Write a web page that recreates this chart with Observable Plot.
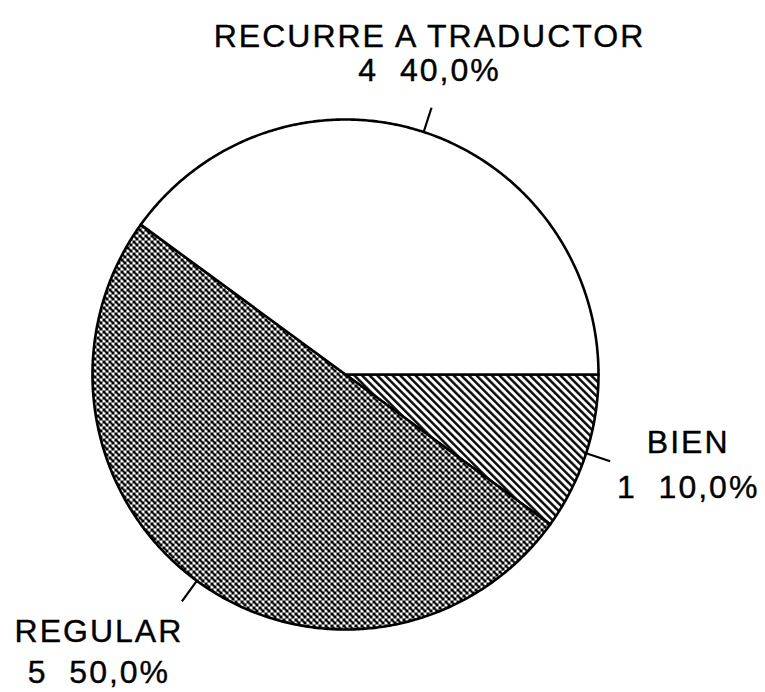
<!DOCTYPE html>
<html><head><meta charset="utf-8">
<script src="https://cdn.jsdelivr.net/npm/d3@7"></script>
<script src="https://cdn.jsdelivr.net/npm/@observablehq/plot@0.6"></script>
<style>html,body{margin:0;padding:0;background:#fff;} svg{display:block}</style>
</head><body>
<svg width="0" height="0" style="position:absolute">
<defs>
<pattern id="hatch" patternUnits="userSpaceOnUse" width="5.4" height="10" patternTransform="rotate(-45)">
<rect width="5.4" height="10" fill="#fff"/>
<line x1="1.3" y1="-1" x2="1.3" y2="11" stroke="#000" stroke-width="2.4"/>
</pattern>
<pattern id="stipple" patternUnits="userSpaceOnUse" width="6" height="6">
<rect width="6" height="6" fill="#000" shape-rendering="crispEdges"/>
<rect x="0" y="3" width="3" height="3" fill="#fff" shape-rendering="crispEdges"/>
<rect x="3" y="0" width="3" height="3" fill="#fff" shape-rendering="crispEdges"/>
<rect x="2" y="2" width="2" height="2" fill="#000" shape-rendering="crispEdges"/>
</pattern>
</defs></svg>
<div id="chart"></div>
<script>
const categories = ["BIEN", "REGULAR", "RECURRE A TRADUCTOR"];
const counts = [1, 5, 4];
const percentLabels = ["10,0%", "50,0%", "40,0%"];
const fills = ["url(#hatch)", "url(#stipple)", "#fff"];

const pie = d3.pie().sort(null).startAngle(Math.PI / 2).endAngle(Math.PI / 2 + 2 * Math.PI)(counts);

const rows = [];
pie.forEach((p, i) => {
  const cat = categories[i];
  rows.push({cat, u: 0, v: 0});
  const n = Math.max(2, Math.ceil((p.endAngle - p.startAngle) / (Math.PI / 360)));
  for (let k = 0; k <= n; k++) {
    const a = p.startAngle + (p.endAngle - p.startAngle) * k / n;
    rows.push({cat, u: Math.sin(a), v: Math.cos(a)});
  }
  rows.push({cat, u: 0, v: 0});
});

const mids = pie.map((p, i) => ({
  cat: categories[i],
  value: counts[i] + "\u00a0\u00a0" + percentLabels[i],
  a: (p.startAngle + p.endAngle) / 2
}));

const W = 765, H = 692, cx = 345, cy = 374, rx = 253, ry = 255;
const font = "'Liberation Sans', Arial, Helvetica, sans-serif";

function label(i, dx, dy1, dy2) {
  const d = [mids[i]];
  const base = {
    x: m => 1.1 * Math.sin(m.a), y: m => 1.1 * Math.cos(m.a),
    textAnchor: "middle", lineAnchor: "bottom", fontSize: 32, fontFamily: font,
    fill: "#000", stroke: "#000", strokeWidth: 0.4, dx
  };
  return [
    Plot.text(d, {...base, text: "cat", dy: dy1}),
    Plot.text(d, {...base, text: "value", dy: dy2})
  ];
}

const chart = Plot.plot({
  width: W, height: H, margin: 0,
  style: {background: "#fff", letterSpacing: "2px"},
  x: {domain: [-cx / rx, (W - cx) / rx], axis: null},
  y: {domain: [-(H - cy) / ry, cy / ry], axis: null},
  color: {domain: categories, range: fills},
  marks: [
    Plot.line(rows, {x: "u", y: "v", z: "cat", fill: "cat", stroke: "#000", strokeWidth: 2.6, strokeLinejoin: "round"}),
    Plot.link(mids, {
      x1: m => Math.sin(m.a), y1: m => Math.cos(m.a),
      x2: m => 1.1 * Math.sin(m.a), y2: m => 1.1 * Math.cos(m.a),
      stroke: "#000", strokeWidth: 2.2
    }),
    ...label(0, 78, -8, 37),
    ...label(1, -83, 41, 82),
    ...label(2, -2, -61, -27)
  ]
});
document.getElementById("chart").appendChild(chart);
</script>
</body></html>
